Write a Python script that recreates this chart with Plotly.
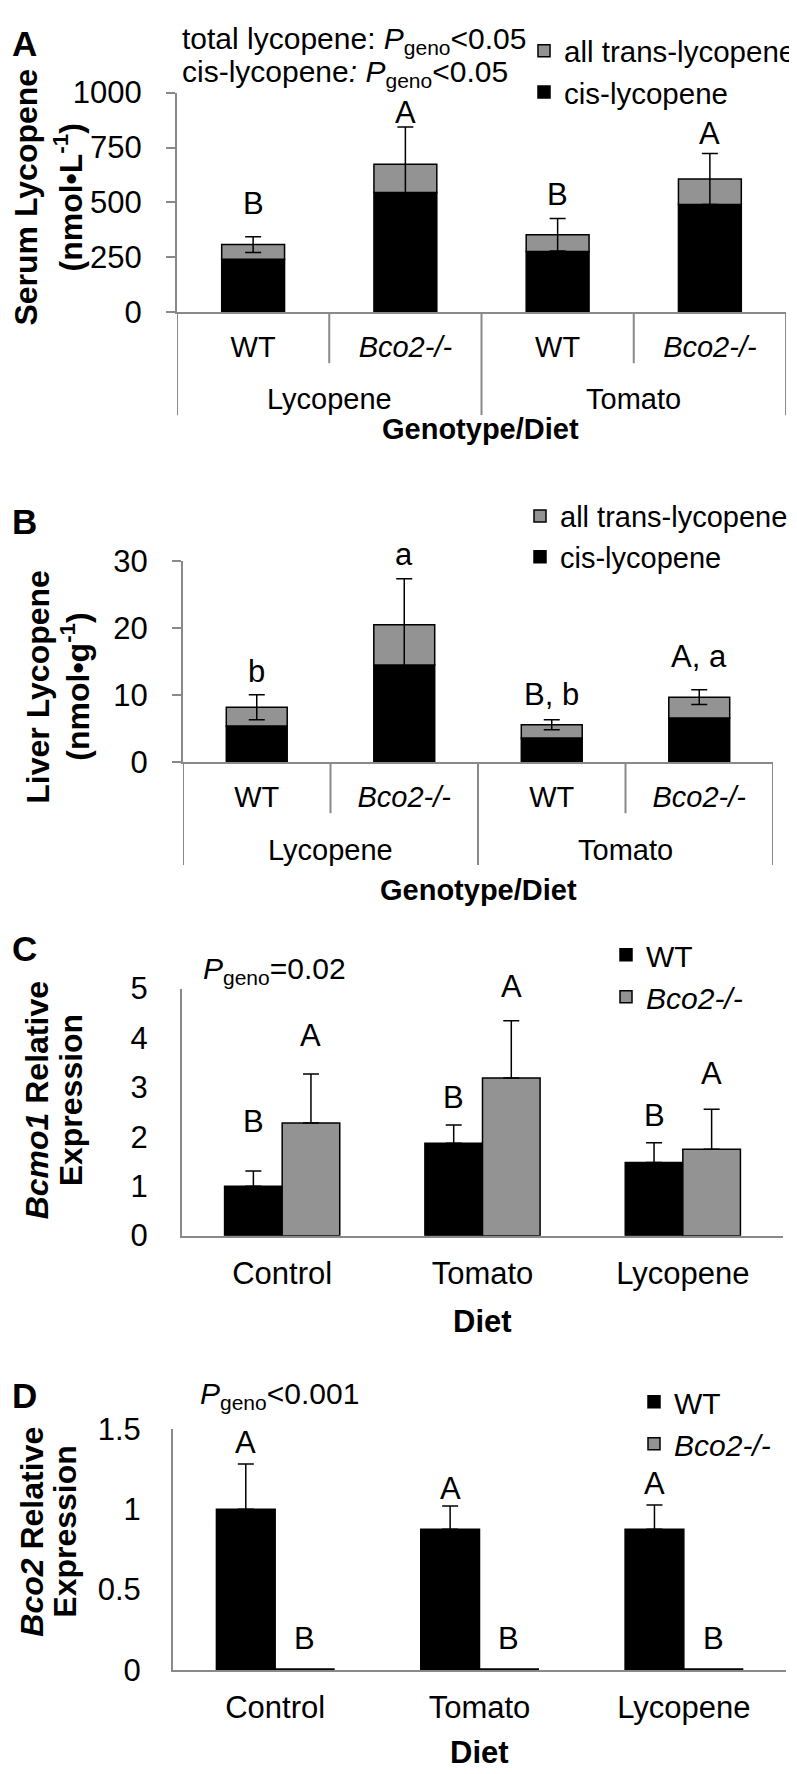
import plotly.graph_objects as go

W, H = 797, 1774
FONT = "Liberation Sans, Arial, sans-serif"
GREY_AX = "#898989"
GREY_BAR = "#939393"

# ---------------- data ----------------
# Panel A: serum lycopene (nmol/L)
ab_diets = ["Lycopene", "Lycopene", "Tomato", "Tomato"]
ab_genos = ["WT", "Bco2-/-", "WT", "Bco2-/-"]
A_cis = [241, 545, 277, 491]
A_trans = [67, 129, 76, 116]
A_err = [36, 169, 74, 116]
A_letters = ["B", "A", "B", "A"]
A_letter_y = [495, 911, 536, 813]

# Panel B: liver lycopene (nmol/g)
B_cis = [5.4, 14.5, 3.6, 6.6]
B_trans = [2.8, 6.0, 2.0, 3.1]
B_err = [1.85, 6.9, 0.75, 1.1]
B_letters = ["b", "a", "B, b", "A, a"]
B_letter_y = [13.5, 31.0, 10.1, 15.8]

# Panel C: Bcmo1 relative expression
cd_diets = ["Control", "Tomato", "Lycopene"]
C_wt = [1.0, 1.87, 1.48]
C_wt_err = [0.31, 0.37, 0.40]
C_ko = [2.28, 3.19, 1.75]
C_ko_err = [0.99, 1.16, 0.81]
C_wt_letters = ["B", "B", "B"]
C_ko_letters = ["A", "A", "A"]
C_wt_letter_y = [2.32, 2.80, 2.44]
C_ko_letter_y = [4.05, 5.04, 3.29]

# Panel D: Bco2 relative expression
D_wt = [1.0, 0.875, 0.875]
D_wt_err = [0.28, 0.145, 0.15]
D_ko = [0.005, 0.005, 0.005]
D_wt_letters = ["A", "A", "A"]
D_ko_letters = ["B", "B", "B"]
D_wt_letter_y = [1.415, 1.128, 1.16]
D_ko_letter_y = [0.195, 0.195, 0.195]

A_range = [0, 1000]
B_range = [0, 30]
C_range = [0, 5]
D_range = [0, 1.5]

BARGAP = 0.425
AB_WIDTH = 0.413


def px(x):
    return x / W


def py(y):
    return 1 - y / H


def italic_geno(g):
    return "<i>%s</i>" % g if g != "WT" else g


ab_keys = ["%s %s" % (d, g) for d, g in zip(ab_diets, ab_genos)]
ab_ticktext = [italic_geno(g) for g in ab_genos]

fig = go.Figure()

# ---- panel A & B stacked bars ----
for (xa, ya, leg, cis, trans, err) in [
    ("x", "y", "legend", A_cis, A_trans, A_err),
    ("x2", "y2", "legend2", B_cis, B_trans, B_err),
]:
    fig.add_trace(go.Bar(
        x=ab_keys, y=cis, xaxis=xa, yaxis=ya, name="cis-lycopene",
        marker=dict(color="black", line=dict(color="black", width=1.5)),
        width=AB_WIDTH, offsetgroup="s" + xa, legend=leg, legendrank=2,
    ))
    fig.add_trace(go.Bar(
        x=ab_keys, y=trans, base=cis, xaxis=xa, yaxis=ya, name="all trans-lycopene",
        marker=dict(color=GREY_BAR, line=dict(color="black", width=1.5)),
        width=AB_WIDTH, offsetgroup="s" + xa, legend=leg, legendrank=1,
        error_y=dict(type="data", array=err, symmetric=True, color="black",
                     thickness=1.5, width=8),
    ))

# ---- panel C & D grouped bars ----
for (xa, ya, leg, wt, wte, ko, koe) in [
    ("x3", "y3", "legend3", C_wt, C_wt_err, C_ko, C_ko_err),
    ("x4", "y4", "legend4", D_wt, D_wt_err, D_ko, None),
]:
    fig.add_trace(go.Bar(
        x=cd_diets, y=wt, xaxis=xa, yaxis=ya, name="WT",
        marker=dict(color="black", line=dict(color="black", width=1.5)),
        offsetgroup="wt", legend=leg,
        error_y=dict(type="data", array=wte, arrayminus=[0] * len(wte), symmetric=False,
                     color="black", thickness=1.5, width=8),
    ))
    kw = {}
    if koe is not None:
        kw["error_y"] = dict(type="data", array=koe, arrayminus=[0] * len(koe), symmetric=False,
                             color="black", thickness=1.5, width=8)
    fig.add_trace(go.Bar(
        x=cd_diets, y=ko, xaxis=xa, yaxis=ya, name="<i>Bco2-/-</i>",
        marker=dict(color=GREY_BAR, line=dict(color="black", width=1.5)),
        offsetgroup="ko", legend=leg, **kw,
    ))

# ---- axes ----
panels = {
    # name: (x0, x1, ytop, ybottom) in page pixels
    "A": (169, 778, 69, 293),
    "B": (175, 765, 547, 752),
    "C": (174, 775, 983, 1235),
    "D": (165, 778, 1432, 1678),
}

axis_common = dict(showline=True, linecolor=GREY_AX, linewidth=2, showgrid=False,
                   zeroline=False, tickfont=dict(family=FONT, size=31, color="black"))

layout = dict(
    width=W, height=H, margin=dict(l=0, r=0, t=0, b=0),
    paper_bgcolor="white", plot_bgcolor="white",
    barmode="group", bargap=BARGAP, bargroupgap=0,
    font=dict(family=FONT, color="black"),
)

for i, (key, (x0, x1, yt, yb)) in enumerate(panels.items()):
    sfx = "" if i == 0 else str(i + 1)
    layout["xaxis" + sfx] = dict(domain=[px(x0), px(x1)], anchor="y" + sfx,
                                 type="category", ticks="", **axis_common)
    layout["yaxis" + sfx] = dict(domain=[py(yb), py(yt)], anchor="x" + sfx, **axis_common)

# A
layout["xaxis"].update(categoryarray=ab_keys, tickvals=ab_keys, ticktext=ab_ticktext,
                       range=[-0.5, 3.5], ticklabelstandoff=8,
                       tickfont=dict(family=FONT, size=29, color="black"))
layout["yaxis"].update(range=A_range, tickvals=[0, 250, 500, 750, 1000], ticks="outside",
                       ticklen=9, tickwidth=2, tickcolor=GREY_AX, ticklabelstandoff=18)
# B
layout["xaxis2"].update(categoryarray=ab_keys, tickvals=ab_keys, ticktext=ab_ticktext,
                        range=[-0.5, 3.5], ticklabelstandoff=8,
                        tickfont=dict(family=FONT, size=29, color="black"))
layout["yaxis2"].update(range=B_range, tickvals=[0, 10, 20, 30], ticks="outside",
                        ticklen=9, tickwidth=2, tickcolor=GREY_AX, ticklabelstandoff=18)
# C
layout["xaxis3"].update(categoryarray=cd_diets, range=[-0.5, 2.5], ticklabelstandoff=9)
layout["yaxis3"].update(range=C_range, tickvals=[0, 1, 2, 3, 4, 5], ticks="", ticklabelstandoff=26)
# D
layout["xaxis4"].update(categoryarray=cd_diets, range=[-0.5, 2.5], ticklabelstandoff=9)
layout["yaxis4"].update(range=D_range, tickvals=[0, 0.5, 1, 1.5], ticks="", ticklabelstandoff=24)

# legends
leg_common = dict(yanchor="top", bgcolor="rgba(0,0,0,0)", itemwidth=30,
                  tracegroupgap=0, traceorder="normal")
layout["legend"] = dict(x=px(793), xanchor="right", y=py(0),
                        font=dict(family=FONT, size=29.5, color="black"), **leg_common)
layout["legend2"] = dict(x=px(512), xanchor="left", y=py(475),
                         font=dict(family=FONT, size=29, color="black"), **leg_common)
layout["legend3"] = dict(x=px(598), xanchor="left", y=py(922),
                         font=dict(family=FONT, size=30, color="black"), **leg_common)
layout["legend4"] = dict(x=px(626), xanchor="left", y=py(1378),
                         font=dict(family=FONT, size=30, color="black"), **leg_common)

fig.update_layout(**layout)

ann = []
shapes = []


def text_ann(x, y, text, size, xanchor="left", angle=0, xref="paper", yref="paper"):
    return dict(x=x, y=y, xref=xref, yref=yref, text=text, showarrow=False,
                xanchor=xanchor, yanchor="middle", textangle=angle,
                font=dict(family=FONT, size=size, color="black"))


# panel letters
for letter, ycen in [("A", 19), ("B", 507), ("C", 942), ("D", 1398)]:
    ann.append(text_ann(px(2), py(ycen), "<b>%s</b>" % letter, 35))

# p-value texts
ann.append(text_ann(px(172), py(16), "total lycopene: <i>P</i><sub>geno</sub>&lt;0.05", 30))
ann.append(text_ann(px(172), py(49), "cis-lycopene<i>:</i> <i>P</i><sub>geno</sub>&lt;0.05", 30))
ann.append(text_ann(px(193), py(965), "<i>P</i><sub>geno</sub>=0.02", 30))
ann.append(text_ann(px(190), py(1398), "<i>P</i><sub>geno</sub>&lt;0.001", 30))

# y-axis titles (two lines each)
ytitles = [
    ("<b>Serum Lycopene</b>", "<b>(nmol•L<sup>-1</sup>)</b>", 18, 60, 176),
    ("<b>Liver Lycopene</b>", "<b>(nmol•g<sup>-1</sup>)</b>", 30, 67, 675),
    ("<b><i>Bcmo1</i> Relative</b>", "<b>Expression</b>", 29, 63, 1097),
    ("<b><i>Bco2</i> Relative</b>", "<b>Expression</b>", 24, 57, 1537),
]
for l1, l2, xa, xb, yc in ytitles:
    ann.append(text_ann(px(xa), py(yc), l1, 32, xanchor="center", angle=-90))
    ann.append(text_ann(px(xb), py(yc), l2, 32, xanchor="center", angle=-90))

# x-axis titles
ann.append(text_ann(px(473), py(412), "<b>Genotype/Diet</b>", 29, xanchor="center"))
ann.append(text_ann(px(470), py(882), "<b>Genotype/Diet</b>", 29, xanchor="center"))
ann.append(text_ann(px(474), py(1323), "<b>Diet</b>", 31, xanchor="center"))
ann.append(text_ann(px(471), py(1762), "<b>Diet</b>", 31, xanchor="center"))

# two-level category axes (A, B): outer labels and dividers
for xa, (x0, x1, yt, yb), lab_y in [("x", panels["A"], 382), ("x2", panels["B"], 842)]:
    groups = []
    for i, d in enumerate(ab_diets):
        if not groups or groups[-1][0] != d:
            groups.append([d, i, i])
        else:
            groups[-1][2] = i
    for d, i0, i1 in groups:
        ann.append(text_ann((i0 + i1) / 2, py(lab_y), d, 29, xanchor="center", xref=xa))
    sub_len, grp_len = 52, 105
    n = len(ab_diets)
    for k in range(n + 1):
        b = k - 0.5
        is_group = k == 0 or k == n or ab_diets[k - 1] != ab_diets[k]
        length = grp_len if is_group else sub_len
        shapes.append(dict(type="line", xref=xa, yref="paper", x0=b, x1=b,
                           y0=py(yb), y1=py(yb + length),
                           line=dict(color=GREY_AX, width=2)))


def letter_ann(x, yv, xa, ya, rng, panel, t):
    # keep the anchor inside the axis range; shift in pixels when above it
    x0, x1, yt, yb = panels[panel]
    ppu = (yb - yt) / (rng[1] - rng[0])
    shift = 0
    yy = yv
    if yv > rng[1]:
        shift = (yv - rng[1]) * ppu
        yy = rng[1]
    return dict(x=x, y=yy, xref=xa, yref=ya, text=t, showarrow=False,
                xanchor="center", yanchor="middle", yshift=shift,
                font=dict(family=FONT, size=31, color="black"))


# letters above bars
for xa, ya, labels, ys, rng, p in [("x", "y", A_letters, A_letter_y, A_range, "A"),
                                   ("x2", "y2", B_letters, B_letter_y, B_range, "B")]:
    for i, (t, yv) in enumerate(zip(labels, ys)):
        ann.append(letter_ann(i, yv, xa, ya, rng, p, t))

half = (1 - BARGAP) / 4
for xa, ya, wl, wy, kl, ky, rng, p in [
    ("x3", "y3", C_wt_letters, C_wt_letter_y, C_ko_letters, C_ko_letter_y, C_range, "C"),
    ("x4", "y4", D_wt_letters, D_wt_letter_y, D_ko_letters, D_ko_letter_y, D_range, "D"),
]:
    for i in range(len(cd_diets)):
        for t, yv, off in [(wl[i], wy[i], -half), (kl[i], ky[i], half)]:
            ann.append(letter_ann(i + off, yv, xa, ya, rng, p, t))

fig.update_layout(annotations=ann, shapes=shapes)
fig.write_html("out.html")
